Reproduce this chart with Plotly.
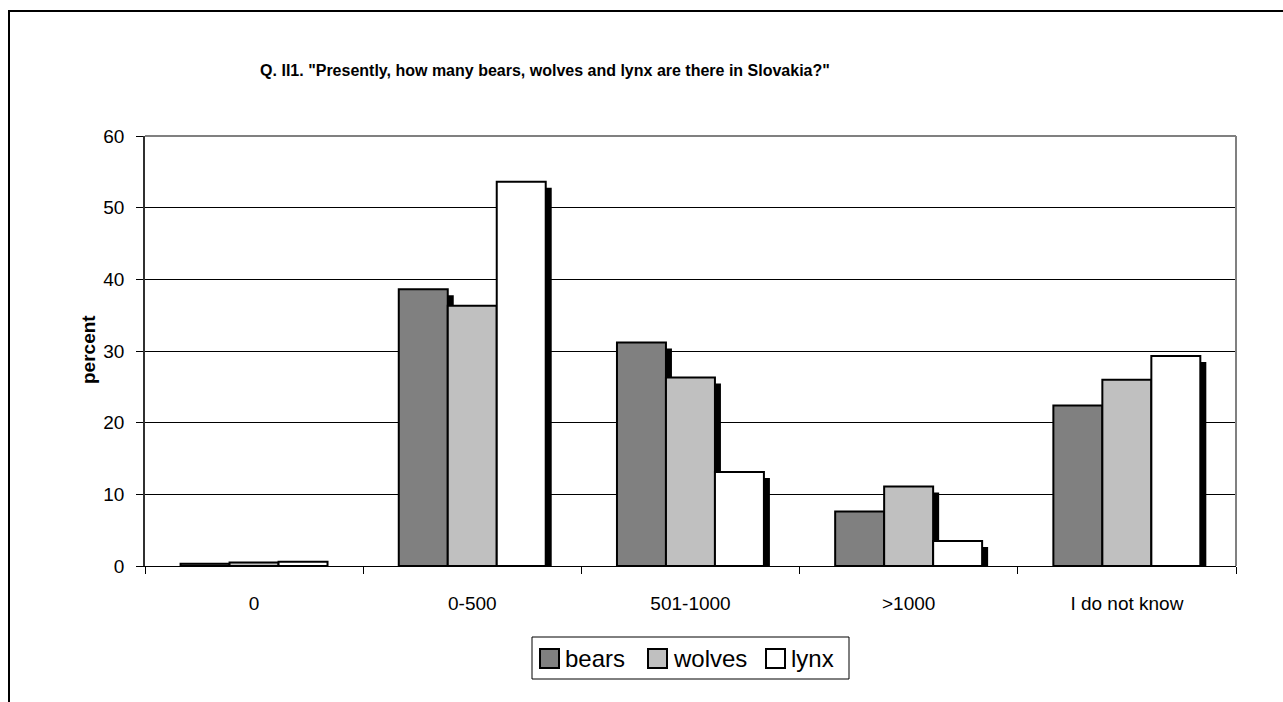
import plotly.graph_objects as go

# Survey answers (percent of respondents)
categories = ["0", "0-500", "501-1000", ">1000", "I do not know"]
series_names = ["bears", "wolves", "lynx"]
bears = [0.3, 38.6, 31.2, 7.6, 22.4]
wolves = [0.5, 36.3, 26.3, 11.1, 26.0]
lynx = [0.6, 53.6, 13.1, 3.5, 29.3]
y_ticks = [0, 10, 20, 30, 40, 50, 60]

W, H = 1283, 702
L, R, T, B = 145, 47, 136, 136
PW, PH = W - L - R, H - T - B
FONT = "Liberation Sans, Arial, sans-serif"


def px_x(x):
    return (x - L) / PW


def px_y(y):
    return (H - B - y) / PH


colors = ["#808080", "#C0C0C0", "#FFFFFF"]
bar_w = 0.2245
offsets = [-0.337, -0.337 + bar_w, -0.337 + 2 * bar_w]
shadow_dx = 6 / (PW / 5)          # shadow shifted 6 px right
shadow_dy = 6 / (PH / 60)         # ... and 6 px down

fig = go.Figure()
for name, vals, col, off in zip(series_names, [bears, wolves, lynx], colors, offsets):
    # drop shadow behind each bar
    fig.add_trace(go.Bar(
        x=categories, y=vals, base=[-shadow_dy] * len(vals),
        offset=off + shadow_dx, width=bar_w,
        marker=dict(color="black", line=dict(width=0)),
        showlegend=False, hoverinfo="skip",
    ))
    fig.add_trace(go.Bar(
        x=categories, y=vals, name=name,
        offset=off, width=bar_w,
        marker=dict(color=col, line=dict(color="black", width=2)),
        showlegend=False,
    ))

fig.update_layout(
    width=W, height=H, autosize=False,
    margin=dict(l=L, r=R, t=T, b=B, pad=0),
    barmode="overlay",
    plot_bgcolor="white", paper_bgcolor="white",
    font=dict(family=FONT, color="black", size=19),
    title=dict(
        text='<b>Q. II1. "Presently, how many bears, wolves and lynx are there in Slovakia?"</b>',
        x=545 / W, xanchor="center", xref="container",
        y=1 - 70 / H, yanchor="middle", yref="container",
        font=dict(family=FONT, size=16, color="black"),
    ),
    xaxis=dict(
        type="category", range=[-0.5, 4.5],
        showgrid=False, zeroline=False,
        showline=True, linecolor="black", linewidth=1,
        ticks="outside", tickson="boundaries", ticklen=7, tickcolor="black",
        tickfont=dict(family=FONT, size=19), ticklabelstandoff=20,
    ),
    yaxis=dict(
        range=[0, 60], tickvals=y_ticks,
        showgrid=True, gridcolor="black", gridwidth=1,
        zeroline=False,
        showline=True, linecolor="#303030", linewidth=1.5,
        ticks="outside", ticklen=7, tickcolor="black",
        tickfont=dict(family=FONT, size=19), ticklabelstandoff=8,
    ),
    showlegend=False,
)

shapes = [
    # outer chart frame
    dict(type="rect", xref="paper", yref="paper",
         x0=px_x(9), x1=px_x(W + 20), y0=px_y(H + 20), y1=px_y(11),
         line=dict(color="black", width=2), fillcolor="rgba(0,0,0,0)", layer="below"),
    # plot area border (top and right)
    dict(type="line", xref="paper", yref="paper", x0=0, x1=1, y0=1, y1=1,
         line=dict(color="#808080", width=2)),
    dict(type="line", xref="paper", yref="paper", x0=1, x1=1, y0=0, y1=1,
         line=dict(color="#808080", width=2)),
    # legend box
    dict(type="rect", xref="paper", yref="paper",
         x0=px_x(532), x1=px_x(849), y0=px_y(679), y1=px_y(637),
         line=dict(color="black", width=1), fillcolor="white"),
]
annotations = [
    dict(text="<b>percent</b>", textangle=-90, xref="paper", yref="paper",
         x=px_x(88), y=px_y(350), xanchor="center", yanchor="middle",
         showarrow=False, font=dict(family=FONT, size=19, color="black")),
]

# legend entries
legend_sq = [540, 648, 766]
for name, col, sx in zip(series_names, colors, legend_sq):
    shapes.append(dict(type="rect", xref="paper", yref="paper",
                       x0=px_x(sx), x1=px_x(sx + 19), y0=px_y(668), y1=px_y(649),
                       line=dict(color="black", width=2), fillcolor=col))
    annotations.append(dict(text=name, xref="paper", yref="paper",
                            x=px_x(sx + 23), y=px_y(658), xanchor="left", yanchor="middle",
                            showarrow=False, font=dict(family=FONT, size=24, color="black")))

fig.update_layout(shapes=shapes, annotations=annotations)
fig.write_html("out.html")
